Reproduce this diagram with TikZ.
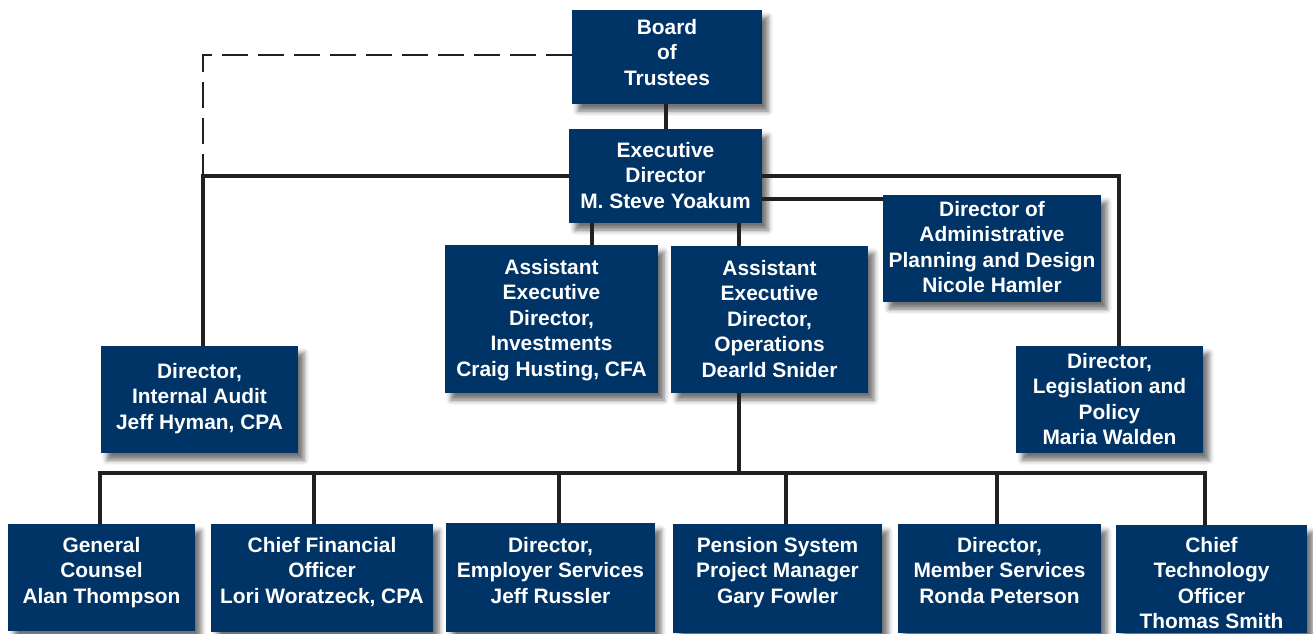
\documentclass[tikz,border=0pt]{standalone}
\usepackage{fontspec}
\setmainfont{Liberation Sans}
\usetikzlibrary{shadows.blur}
\definecolor{navy}{RGB}{0,51,102}
\definecolor{linec}{RGB}{35,31,32}
\tikzset{
  orgbox/.style={fill=navy, inner sep=0pt, outer sep=0pt,
    blur shadow={shadow xshift=6pt, shadow yshift=-7pt, shadow blur radius=5pt, shadow opacity=55}},
  orgtext/.style={text=white, inner sep=0pt, outer sep=0pt, align=center,
    font=\fontsize{20.9}{25.5}\selectfont\bfseries},
  conn/.style={draw=linec, line width=4.5pt, line cap=butt},
  dconn/.style={draw=linec, line width=2.3pt, dash pattern=on 26pt off 10pt}
}
\newcommand{\orgbox}[7]{%
  \node[orgbox, minimum width={#4pt-#2pt}, minimum height={#5pt-#3pt}, anchor=north west] (#1) at (#2,#3) {};
  \node[orgtext, anchor=north] (#1t) at ([yshift=-#6pt]#1.north) {#7};
}
\begin{document}
\begin{tikzpicture}[x=1pt,y=-1pt]
\useasboundingbox (0,0) rectangle (1313,633);
% boxes
\orgbox{board}{572}{10}{762}{104}{9}{Board\\of\\Trustees}
\orgbox{exec}{569}{129}{762}{223}{13}{Executive\\Director\\M. Steve Yoakum}
\orgbox{inv}{445}{245}{658}{393}{14}{Assistant\\Executive\\Director,\\Investments\\Craig Husting, CFA}
\orgbox{ops}{671}{246}{868}{393}{14}{Assistant\\Executive\\Director,\\Operations\\Dearld Snider}
\orgbox{admin}{883}{195}{1101}{302}{6}{Director of\\Administrative\\Planning and Design\\Nicole Hamler}
\orgbox{audit}{101}{346}{298}{453}{17}{Director,\\Internal Audit\\Jeff Hyman, CPA}
\orgbox{legis}{1016}{346}{1203}{453}{7}{Director,\\Legislation and\\Policy\\Maria Walden}
\orgbox{gc}{8}{524}{195}{631}{13}{General\\Counsel\\Alan Thompson}
\orgbox{cfo}{211}{524}{433}{632}{13}{Chief Financial\\Officer\\Lori Woratzeck, CPA}
\orgbox{emp}{446}{523}{655}{632}{14}{Director,\\Employer Services\\Jeff Russler}
\orgbox{pen}{673}{524}{882}{633}{13}{Pension System\\Project Manager\\Gary Fowler}
\orgbox{mem}{898}{524}{1101}{633}{13}{Director,\\Member Services\\Ronda Peterson}
\orgbox{cto}{1116}{525}{1307}{633}{12}{Chief\\Technology\\Officer\\Thomas Smith}
% coordinates
\coordinate (dcorner) at (203,55);
\coordinate (lcorner) at (203,176);
\coordinate (rcorner) at (1119,176);
\coordinate (bar) at (739,473);
\coordinate (barl) at (100,473);
\coordinate (barr) at (1205,473);
% connectors
\draw[dconn] (board.west |- dcorner) -- (dcorner) -- (lcorner);
\draw[conn] (board.south -| 666,0) -- (exec.north -| 666,0);
\draw[conn, line join=miter] (exec.west |- lcorner) -- (lcorner) -- (lcorner |- audit.north);
\draw[conn, line join=miter] (exec.east |- rcorner) -- (rcorner) -- (rcorner |- legis.north);
\draw[conn] (exec.east |- 0,199) -- (admin.west |- 0,199);
\draw[conn] (exec.south -| 592,0) -- (inv.north -| 592,0);
\draw[conn] (exec.south -| 739,0) -- (ops.north -| 739,0);
\draw[conn] (ops.south -| bar) -- (bar);
\draw[conn, line join=miter] (gc.north -| barl) -- (barl) -- (barr) -- (cto.north -| barr);
\draw[conn] (bar -| 314,0) -- (cfo.north -| 314,0);
\draw[conn] (bar -| 559,0) -- (emp.north -| 559,0);
\draw[conn] (bar -| 786,0) -- (pen.north -| 786,0);
\draw[conn] (bar -| 997,0) -- (mem.north -| 997,0);
\end{tikzpicture}
\end{document}
